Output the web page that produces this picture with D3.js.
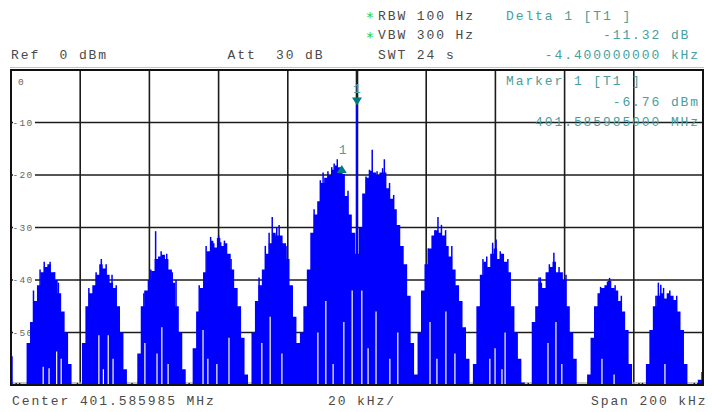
<!DOCTYPE html>
<html>
<head>
<meta charset="utf-8">
<script src="https://cdn.jsdelivr.net/npm/d3@7"></script>
<style>
  body { margin: 0; background: #fff; }
  svg text { font-family: "Liberation Mono", "DejaVu Sans Mono", monospace; white-space: pre; }
</style>
</head>
<body>
<div id="chart"></div>
<script>
// sweep settings
const centerText = "Center 401.585985 MHz";
const divText = "20 kHz/";
const spanText = "Span 200 kHz";
const startKHz = -100;  // offset of first trace point from center
const stepKHz = 1;

// trace level (dBm), one value per kHz from -100 to +100 kHz
const traceDb = [
  -54.5, -61, -61, -61, -61, -52, -48, -44, -41, -38.5,
  -37.5, -37, -38.5, -40, -42.5, -46, -50, -56, -61, -61,
  -61, -52, -45, -42.5, -41, -39, -37, -37.8, -39, -40.5,
  -41.5, -45, -50, -57, -61, -61, -61, -54, -45, -42,
  -40, -38.3, -36, -35.5, -35.2, -36, -38, -40.5, -45, -50,
  -57, -61, -61, -53, -46, -41.5, -38.5, -34.5, -32.5, -33.8,
  -32, -33.5, -33, -35, -38, -41.5, -45, -51, -58, -61,
  -50, -44, -41, -38, -35, -33, -31, -31.5, -31.5, -33,
  -36, -41, -47, -52, -50, -45, -38, -31, -27.5, -25,
  -21.5, -20.5, -20, -19, -18.2, -18.5, -19.8, -24, -27.5, -31,
  -35, -30, -23.5, -20.5, -19.2, -19.5, -20, -19.5, -19.5, -22.5,
  -24.5, -26.5, -29.5, -33.5, -37, -43, -52, -58, -50, -42,
  -37, -34, -31.5, -30.5, -31, -31.5, -33.5, -35.5, -38, -41,
  -44, -49, -55, -60, -56, -45, -39, -36.5, -37.5, -35,
  -34, -36, -35, -36.5, -38.5, -45, -50, -55, -59.5, -61,
  -61, -48, -45, -40.5, -41.5, -38.5, -37.5, -36.5, -38.5, -38.5,
  -40, -45, -50, -55, -60, -61, -61, -58, -51, -45,
  -42.5, -41.5, -41, -40.2, -41.5, -42, -44, -46, -49.5, -56,
  -61, -61, -61, -61, -56, -49.5, -45, -43, -42.5, -43.5,
  -42.5, -43, -43.8, -46, -49.5, -56, -61, -61, -61, -59,
  -57.5
];

// narrow peaks on top of the envelope [kHz, dBm]
const spikes = [
  [-93.5, -42], [-91.6, -38], [-90.4, -36.5], [-88.7, -36.5], [-87.4, -38.5], [-86.3, -40.5],
  [-77.5, -41.5], [-75.4, -38.5], [-73.9, -36], [-72.5, -37], [-70.8, -39], [-69.6, -41],
  [-61.6, -42.5], [-59.6, -38], [-58.2, -30.7], [-56.6, -34.5], [-55.0, -35], [-53.4, -38.5], [-52.3, -40],
  [-45.6, -41], [-43.6, -33.5], [-42.3, -31.8], [-41.4, -33], [-40.0, -31.5], [-39.4, -32.8], [-38.3, -32.5], [-36.4, -36],
  [-28.3, -39.5], [-26.5, -33.5], [-25.4, -31], [-24.5, -28], [-23.2, -30], [-22.5, -29.5], [-20.5, -33.5],
  [-12.4, -26.5], [-10.6, -21], [-9.8, -19.5], [-8.4, -19.3], [-7.3, -18.5], [-6.6, -17.8], [-5.7, -17], [-4.4, -19], [-2.6, -23],
  [2.6, -20.3], [3.6, -19], [4.4, -15.2], [5.8, -19.3], [7.4, -18.7], [7.9, -17], [9.4, -21.5], [10.6, -23.8],
  [20.6, -34], [22.5, -30.5], [23.4, -28], [24.4, -29.5], [25.6, -30.5], [27.4, -33.5],
  [36.4, -36], [37.5, -35.5], [39.2, -32.9], [40.2, -32.3], [41.4, -34.5], [43.6, -36],
  [52.6, -39.5], [53.0, -39.5], [55.6, -37], [56.9, -34.8], [58.4, -37.5], [60.4, -39],
  [70.4, -41.3], [72.4, -40.3], [73.0, -39.6], [74.6, -41], [76.4, -43],
  [86.4, -43], [87.1, -40.5], [87.8, -40.9], [88.6, -41.5], [90.4, -42], [92.4, -43]
];

// little noise blips just above the bottom line [kHz, dBm]
const floorDots = [
  [-98.5, -59.6], [-97.5, -59.6], [-80.8, -59.6], [-65.0, -59.6], [-48.5, -59.6],
  [49.5, -59.6], [81.5, -59.6], [82.5, -59.6], [97.5, -59.6], [98.5, -59.6]
];

// dips where the trace drops out [kHz, top of dip dBm]
const gaps = [
  [-90.7, -56.5], [-89.0, -56.8], [-86.8, -53.6], [-85.5, -55],
  [-74.6, -50.5], [-73.3, -57], [-71.9, -50.5], [-70.5, -55],
  [-61.3, -52], [-57.8, -54], [-56.4, -49], [-54.6, -56],
  [-44.5, -49.5], [-43.1, -55], [-40.5, -56], [-37.0, -51],
  [-27.5, -52], [-25.1, -47], [-21.7, -54],
  [-11.3, -50], [-9.0, -44], [-6.9, -56], [-3.8, -48], [-1.4, -42],
  [1.4, -42], [3.2, -53], [5.5, -46], [9.5, -55], [11.8, -50],
  [21.1, -48], [23.1, -55], [25.7, -46], [28.3, -54],
  [38.4, -55], [39.9, -53], [41.9, -57], [42.8, -50],
  [55.2, -52], [57.5, -48], [59.2, -56],
  [70.8, -55], [74.3, -58], [89.0, -56]
];

// markers
const marker1 = {kHz: 0, dB: -6.76};
const delta1 = {kHz: -4.4, dB: -11.32};

const levelTicks = [-10, -20, -30, -40, -50];
const levelLabels = ["0", "-10", "-20", "-30", "-40", "-50"];
const freqTicks = [-80, -60, -40, -20, 0, 20, 40, 60, 80];

// layout
const W = 712, H = 412;
const plot = {left: 11, right: 703, top: 70, bottom: 385};
const pitch = 9.7;   // character pitch of the header font
const grey = "#4a4a4a", teal = "#45a0a0", mark = "#007c7c", blue = "#0000ff";

const svg = d3.select("#chart").append("svg")
    .attr("width", W)
    .attr("height", H);

const x = d3.scaleLinear().domain([-100, 100]).range([plot.left, plot.right]);
const y = d3.scaleLinear().domain([0, -60]).range([plot.top, plot.bottom]);

function label(px, py, s, color) {
  return svg.append("text")
      .attr("x", px).attr("y", py)
      .attr("fill", color)
      .style("font-size", "13px")
      .style("letter-spacing", "1.9px")
      .text(s);
}
function labelRight(right, py, s, color) {
  return label(right - s.length * pitch, py, s, color);
}

// header
const star = (px, py) => svg.append("text").attr("x", px).attr("y", py)
    .attr("fill", "#1ed21e").style("font-size", "14px")
    .style("font-family", "DejaVu Sans").text("*");
star(366.5, 22);
star(366.5, 41.5);
label(378, 19.5, "RBW 100 Hz", grey);
label(378, 39, "VBW 300 Hz", grey);
label(378, 58.5, "SWT 24 s", grey);
label(11, 58.5, "Ref  0 dBm", grey);
label(227.5, 58.5, "Att  30 dB", grey);

label(506, 19.5, "Delta 1 [T1 ]", teal);
labelRight(700, 39, "-11.32 dB ", teal);
labelRight(700, 58.5, "-4.400000000 kHz", teal);

// bottom line
label(12, 405, centerText, grey);
label(328, 405, divText, grey);
label(591, 405, spanText, grey);

// grey rule above the screen
svg.append("line")
    .attr("x1", plot.left - 1).attr("x2", plot.right + 1)
    .attr("y1", plot.top - 2.5).attr("y2", plot.top - 2.5)
    .attr("stroke", "#c4c4c4").attr("stroke-width", 1.2);

// grid
const grid = svg.append("g").attr("stroke", "#1c1c1c");
grid.selectAll("line.h")
  .data(levelTicks)
  .enter().append("line")
    .attr("x1", plot.left).attr("x2", plot.right)
    .attr("y1", d => y(d)).attr("y2", d => y(d))
    .attr("stroke-width", 1.6);
grid.selectAll("line.v")
  .data(freqTicks)
  .enter().append("line")
    .attr("x1", d => x(d)).attr("x2", d => x(d))
    .attr("y1", plot.top).attr("y2", plot.bottom)
    .attr("stroke-width", d => d === 0 ? 2.6 : 1.6);

// level labels (white box masks the grid line)
const lv = svg.append("g");
levelLabels.forEach(function(s, i) {
  const gy = y(-10 * i);
  if (i === 0) {
    lv.append("text").attr("x", 18).attr("y", gy + 14.5)
      .attr("fill", "#666").style("font-size", "9.5px").text(s);
    return;
  }
  lv.append("rect").attr("x", 13).attr("y", gy - 4).attr("width", 22).attr("height", 8).attr("fill", "#fff");
  lv.append("text").attr("x", 12.5).attr("y", gy + 3.4)
    .attr("fill", "#666").style("font-size", "9.5px").style("letter-spacing", "1.3px").text(s);
});

// bottom grey trace floor
svg.append("line")
    .attr("x1", plot.left).attr("x2", plot.right)
    .attr("y1", plot.bottom - 2).attr("y2", plot.bottom - 2)
    .attr("stroke", "#b4b4b4").attr("stroke-width", 1.4);

// trace
svg.append("clipPath").attr("id", "screen")
  .append("rect")
    .attr("x", plot.left + 1).attr("y", plot.top + 1)
    .attr("width", plot.right - plot.left - 2).attr("height", plot.bottom - plot.top - 2);

const trace = svg.append("g").attr("clip-path", "url(#screen)");
const pts = traceDb.map((v, i) => ({k: startKHz + i * stepKHz, db: v}));

const area = d3.area()
    .x(d => x(d.k))
    .y0(y(-62))
    .y1(d => y(d.db))
    .curve(d3.curveStep);

trace.append("path")
    .datum(pts)
    .attr("d", area)
    .attr("fill", blue);

trace.selectAll("line.spike")
  .data(spikes.concat(floorDots))
  .enter().append("line")
    .attr("x1", d => x(d[0])).attr("x2", d => x(d[0]))
    .attr("y1", y(-62)).attr("y2", d => y(d[1]))
    .attr("stroke", blue).attr("stroke-width", 1.5);

trace.selectAll("line.gap")
  .data(gaps)
  .enter().append("line")
    .attr("x1", d => x(d[0])).attr("x2", d => x(d[0]))
    .attr("y1", y(-59.8)).attr("y2", d => y(d[1]))
    .attr("stroke", "#fff").attr("stroke-width", 1.2);

// carrier line at marker 1
trace.append("line")
    .attr("x1", x(marker1.kHz)).attr("x2", x(marker1.kHz))
    .attr("y1", y(-62)).attr("y2", y(marker1.dB))
    .attr("stroke", blue).attr("stroke-width", 2);

// frame
svg.append("rect")
    .attr("x", plot.left).attr("y", plot.top)
    .attr("width", plot.right - plot.left).attr("height", plot.bottom - plot.top)
    .attr("fill", "none").attr("stroke", "#111").attr("stroke-width", 2);

// marker 1: downward triangle sitting on the carrier peak
const m1x = x(marker1.kHz), m1y = y(marker1.dB);
svg.append("path")
    .attr("d", `M${m1x - 5},${m1y - 8}L${m1x + 5},${m1y - 8}L${m1x},${m1y}Z`)
    .attr("fill", mark);
svg.append("text").attr("x", m1x).attr("y", m1y - 12.5)
    .attr("text-anchor", "middle").attr("fill", teal)
    .style("font-size", "13px").text("1");

// delta 1: upward triangle
const d1x = x(delta1.kHz), d1y = y(marker1.dB + delta1.dB);
svg.append("path")
    .attr("d", `M${d1x - 5},${d1y + 8}L${d1x + 5},${d1y + 8}L${d1x},${d1y}Z`)
    .attr("fill", mark);
svg.append("text").attr("x", d1x + 1).attr("y", d1y - 11)
    .attr("text-anchor", "middle").attr("fill", teal)
    .style("font-size", "13px").text("1");

// marker readout inside the screen
label(506, 85, "Marker 1 [T1 ]", teal);
labelRight(700, 105.5, "-6.76 dBm", teal);
labelRight(700, 125.5, "401.585985000 MHz", teal);
</script>
</body>
</html>
